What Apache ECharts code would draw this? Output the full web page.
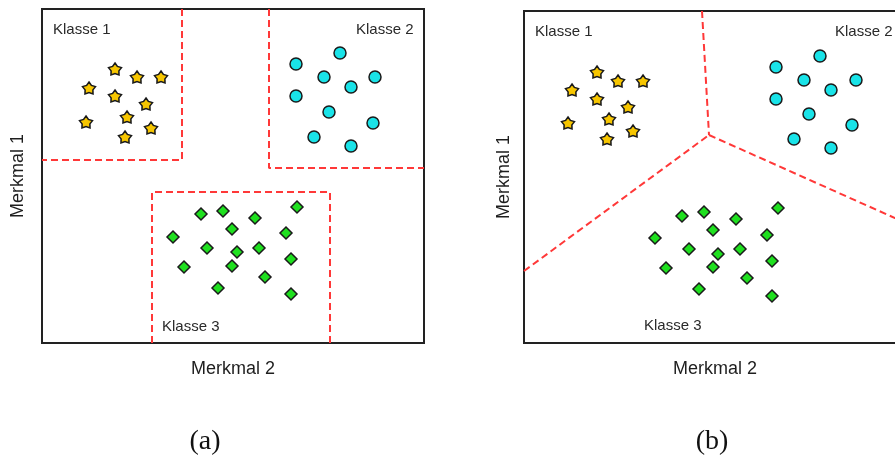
<!DOCTYPE html>
<html>
<head>
<meta charset="utf-8">
<script src="https://cdn.jsdelivr.net/npm/echarts@6/dist/echarts.min.js"></script>
<style>
  html, body { margin: 0; padding: 0; background: #ffffff; overflow: hidden; }
  /* the right panel runs past the window edge, as in the printed figure */
  #chart { width: 920px; height: 465px; }
</style>
</head>
<body>
<div id="chart"></div>
<script>
// Feature pairs [Merkmal 2, Merkmal 1] for each class.
// Panel (a): rectangular decision regions.
const klasse1A = [[7.3, 27.4], [9.5, 26.6], [11.9, 26.6], [4.7, 25.5], [7.3, 24.7],
                  [10.4, 23.9], [8.5, 22.6], [4.4, 22.1], [10.9, 21.5], [8.3, 20.6]];
const klasse2A = [[29.8, 29.0], [25.4, 27.9], [28.2, 26.6], [33.3, 26.6], [30.9, 25.6],
                  [25.4, 24.7], [28.7, 23.1], [33.1, 22.0], [27.2, 20.6], [30.9, 19.7]];
const klasse3A = [[25.5, 13.6], [15.9, 12.9], [18.1, 13.2], [21.3, 12.5], [19.0, 11.4],
                  [13.1, 10.6], [24.4, 11.0], [16.5, 9.5], [19.5, 9.1], [21.7, 9.5],
                  [24.9, 8.4], [14.2, 7.6], [19.0, 7.7], [22.3, 6.6], [17.6, 5.5], [24.9, 4.9]];

// Panel (b): same classes, separated by three half-lines meeting in one point.
const klasse1B = [[7.3, 27.1], [9.4, 26.2], [11.9, 26.2], [4.8, 25.3], [7.3, 24.4],
                  [10.4, 23.6], [8.5, 22.4], [4.4, 22.0], [10.9, 21.2], [8.3, 20.4]];
const klasse2B = [[29.6, 28.7], [25.2, 27.6], [28.0, 26.3], [33.2, 26.3], [30.7, 25.3],
                  [25.2, 24.4], [28.5, 22.9], [32.8, 21.8], [27.0, 20.4], [30.7, 19.5]];
const klasse3B = [[25.4, 13.5], [15.8, 12.7], [18.0, 13.1], [21.2, 12.4], [18.9, 11.3],
                  [13.1, 10.5], [24.3, 10.8], [16.5, 9.4], [19.4, 8.9], [21.6, 9.4],
                  [24.8, 8.2], [14.2, 7.5], [18.9, 7.6], [22.3, 6.5], [17.5, 5.4], [24.8, 4.7]];

// Decision boundaries (polylines in feature coordinates)
const grenze1A = [[14.0, 33.4], [14.0, 18.3], [0, 18.3]];
const grenze2A = [[22.7, 33.4], [22.7, 17.5], [38.2, 17.5]];
const grenze3A = [[11.0, 0], [11.0, 15.1], [28.8, 15.1], [28.8, 0]];
const grenze12B = [[17.8, 33.2], [18.5, 20.8]];
const grenze13B = [[0, 7.2], [18.5, 20.8]];
const grenze23B = [[18.5, 20.8], [38.2, 12.0]];

const klassenNamen = ['Klasse 1', 'Klasse 2', 'Klasse 3'];
const achsenNamen = ['Merkmal 2', 'Merkmal 1'];
const panelNamen = ['(a)', '(b)'];

const chart = echarts.init(document.getElementById('chart'), null, { renderer: 'canvas' });

const SANS = 'Liberation Sans, Arial, sans-serif';
// plump five-pointed star
const STAR = 'path://M50 0 L67.6 25.7 L97.6 34.6 L78.5 59.3 L79.4 90.5 L50 80 L20.6 90.5 L21.5 59.3 L2.4 34.6 L32.4 25.7 Z';

function xAxisFor(gridIndex) {
  return {
    type: 'value', gridIndex, min: 0, max: 38.2,
    axisLine: { show: false }, axisTick: { show: false },
    axisLabel: { show: false }, splitLine: { show: false },
    name: achsenNamen[0], nameLocation: 'middle', nameGap: 17,
    nameTextStyle: { fontFamily: SANS, fontSize: 18, color: '#1e1e1e' }
  };
}
function yAxisFor(gridIndex, max, gap) {
  return {
    type: 'value', gridIndex, min: 0, max,
    axisLine: { show: false }, axisTick: { show: false },
    axisLabel: { show: false }, splitLine: { show: false },
    name: achsenNamen[1], nameLocation: 'middle', nameGap: gap,
    nameTextStyle: { fontFamily: SANS, fontSize: 18, color: '#1e1e1e' }
  };
}

function punkte(data, idx, symbol, fill, size) {
  return {
    type: 'scatter', xAxisIndex: idx, yAxisIndex: idx, data, symbol, symbolSize: size,
    itemStyle: { color: fill, borderColor: '#1a1a1a', borderWidth: 1.5, opacity: 1 },
    emphasis: { disabled: true }, z: 5
  };
}
function grenze(data, idx) {
  return {
    type: 'line', xAxisIndex: idx, yAxisIndex: idx, data, symbol: 'none',
    lineStyle: { color: '#ff3838', width: 2, type: [7, 4] },
    clip: true, silent: true, z: 3
  };
}

function klassenText(text, x, y) {
  return {
    type: 'text', x, y,
    style: { text, fontFamily: SANS, fontSize: 15, fill: '#2a2a2a', verticalAlign: 'middle' }
  };
}
function panelText(text, x, y) {
  return {
    type: 'text', x, y,
    style: { text, fontFamily: 'Liberation Serif, Times New Roman, serif', fontSize: 28,
             fill: '#111', align: 'center', verticalAlign: 'middle' }
  };
}

chart.setOption({
  animation: false,
  backgroundColor: '#ffffff',
  grid: [
    { left: 42, top: 9, width: 382, height: 334, show: true,
      borderColor: '#222', borderWidth: 2, backgroundColor: '#fff' },
    { left: 524, top: 11, width: 382, height: 332, show: true,
      borderColor: '#222', borderWidth: 2, backgroundColor: '#fff' }
  ],
  xAxis: [xAxisFor(0), xAxisFor(1)],
  yAxis: [yAxisFor(0, 33.4, 15), yAxisFor(1, 33.2, 11)],
  series: [
    grenze(grenze1A, 0), grenze(grenze2A, 0), grenze(grenze3A, 0),
    grenze(grenze12B, 1), grenze(grenze13B, 1), grenze(grenze23B, 1),
    punkte(klasse1A, 0, STAR, '#f7c600', [13, 12]),
    punkte(klasse2A, 0, 'circle', '#19e3e8', 12),
    punkte(klasse3A, 0, 'diamond', '#1fe01f', 12),
    punkte(klasse1B, 1, STAR, '#f7c600', [13, 12]),
    punkte(klasse2B, 1, 'circle', '#19e3e8', 12),
    punkte(klasse3B, 1, 'diamond', '#1fe01f', 12)
  ],
  graphic: [
    klassenText(klassenNamen[0], 53, 30),
    klassenText(klassenNamen[1], 356, 30),
    klassenText(klassenNamen[2], 162, 327),
    klassenText(klassenNamen[0], 535, 32),
    klassenText(klassenNamen[1], 835, 32),
    klassenText(klassenNamen[2], 644, 326),
    panelText(panelNamen[0], 205, 442),
    panelText(panelNamen[1], 712, 442)
  ]
});
</script>
</body>
</html>
